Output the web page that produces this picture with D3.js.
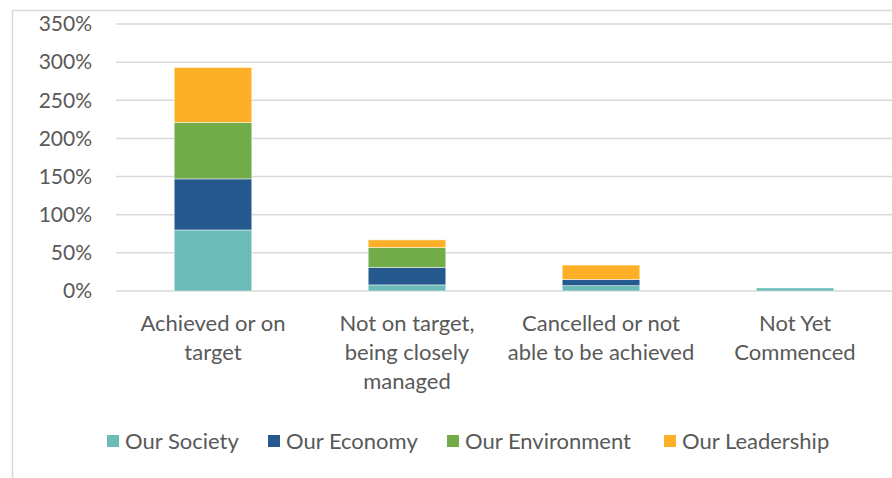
<!DOCTYPE html>
<html>
<head>
<meta charset="utf-8">
<script src="https://cdn.jsdelivr.net/npm/d3@7"></script>
<style>
  body { margin: 0; background: #fff; }
  text { font-family: Lato, "Open Sans", sans-serif; fill: #595959; }
</style>
</head>
<body>
<div id="wrapper"></div>
<script>
// Categories (split into the lines shown under each bar)
const categories = ["Achieved or on target", "Not on target, being closely managed", "Cancelled or not able to be achieved", "Not Yet Commenced"];
const categoryLines = [["Achieved or on", "target"], ["Not on target,", "being closely", "managed"], ["Cancelled or not", "able to be achieved"], ["Not Yet", "Commenced"]];

// Series values, in percent
const seriesNames = ["Our Society", "Our Economy", "Our Environment", "Our Leadership"];
const society = [80, 8, 7, 4];
const economy = [67, 23, 8, 0];
const environment = [74, 26, 0, 0];
const leadership = [72, 10, 19, 0];
const colors = ["#6BBBB7", "#265A8E", "#71AC48", "#FDB027"];

// Y axis ticks
const yTicks = [0, 50, 100, 150, 200, 250, 300, 350];

const W = 892, H = 478;
const margin = { left: 116, right: 0, top: 24, bottom: 187 };

const svg = d3.select("#wrapper")
  .append("svg")
  .attr("width", W)
  .attr("height", H);

// chart frame (only left and top edges are visible in the picture)
svg.append("rect")
  .attr("x", 12.5).attr("y", 10.5)
  .attr("width", W + 10).attr("height", H + 10)
  .attr("fill", "none")
  .attr("stroke", "#d9d9d9")
  .attr("stroke-width", 1.5);

const x = d3.scaleBand()
  .domain(categories)
  .range([margin.left, W - margin.right])
  .paddingInner(0.6)
  .paddingOuter(0.3);

const y = d3.scaleLinear()
  .domain([0, 350])
  .range([H - margin.bottom, margin.top]);

// gridlines
svg.append("g")
  .selectAll("line")
  .data(yTicks)
  .enter()
  .append("line")
    .attr("x1", margin.left)
    .attr("x2", W)
    .attr("y1", d => y(d))
    .attr("y2", d => y(d))
    .attr("stroke", "#d9d9d9")
    .attr("stroke-width", 1.5);

// y tick labels
const fmt = d => d3.format(".0f")(d) + "%";
const yAxis = svg.append("g")
  .attr("transform", `translate(${margin.left - 24},0)`)
  .call(d3.axisLeft(y).tickValues(yTicks).tickFormat(fmt).tickSize(0).tickPadding(0));
yAxis.select(".domain").remove();
yAxis.selectAll("text")
  .style("font-family", "Lato, 'Open Sans', sans-serif")
  .style("font-size", "21px")
  .attr("fill", "#595959");

// stacked data
const rows = categories.map((c, i) => ({
  cat: c,
  "Our Society": society[i],
  "Our Economy": economy[i],
  "Our Environment": environment[i],
  "Our Leadership": leadership[i]
}));
const stacked = d3.stack().keys(seriesNames)(rows);

svg.append("g")
  .selectAll("g")
  .data(stacked)
  .enter()
  .append("g")
    .attr("fill", (d, i) => colors[i])
  .selectAll("rect")
  .data(d => d.filter(s => s[1] - s[0] > 0))
  .enter()
  .append("rect")
    .attr("x", d => x(d.data.cat))
    .attr("width", x.bandwidth())
    .attr("y", d => y(d[1]))
    .attr("height", d => y(d[0]) - y(d[1]))
    .attr("stroke", "#ffffff")
    .attr("stroke-opacity", 0.6)
    .attr("stroke-width", 0.8);

// category labels
const catG = svg.append("g");
categories.forEach((c, i) => {
  const t = catG.append("text")
    .attr("x", x(c) + x.bandwidth() / 2)
    .attr("y", 331)
    .attr("text-anchor", "middle")
    .style("font-size", "22px");
  categoryLines[i].forEach((line, j) => {
    t.append("tspan")
      .attr("x", x(c) + x.bandwidth() / 2)
      .attr("dy", j === 0 ? 0 : 29)
      .text(line);
  });
});

// legend
const legendX = [107, 268, 447, 664];
const legend = svg.append("g");
seriesNames.forEach((name, i) => {
  legend.append("rect")
    .attr("x", legendX[i])
    .attr("y", 435)
    .attr("width", 12)
    .attr("height", 12)
    .attr("fill", colors[i]);
  legend.append("text")
    .attr("x", legendX[i] + 18)
    .attr("y", 449)
    .style("font-size", "22px")
    .text(name);
});
</script>
</body>
</html>
